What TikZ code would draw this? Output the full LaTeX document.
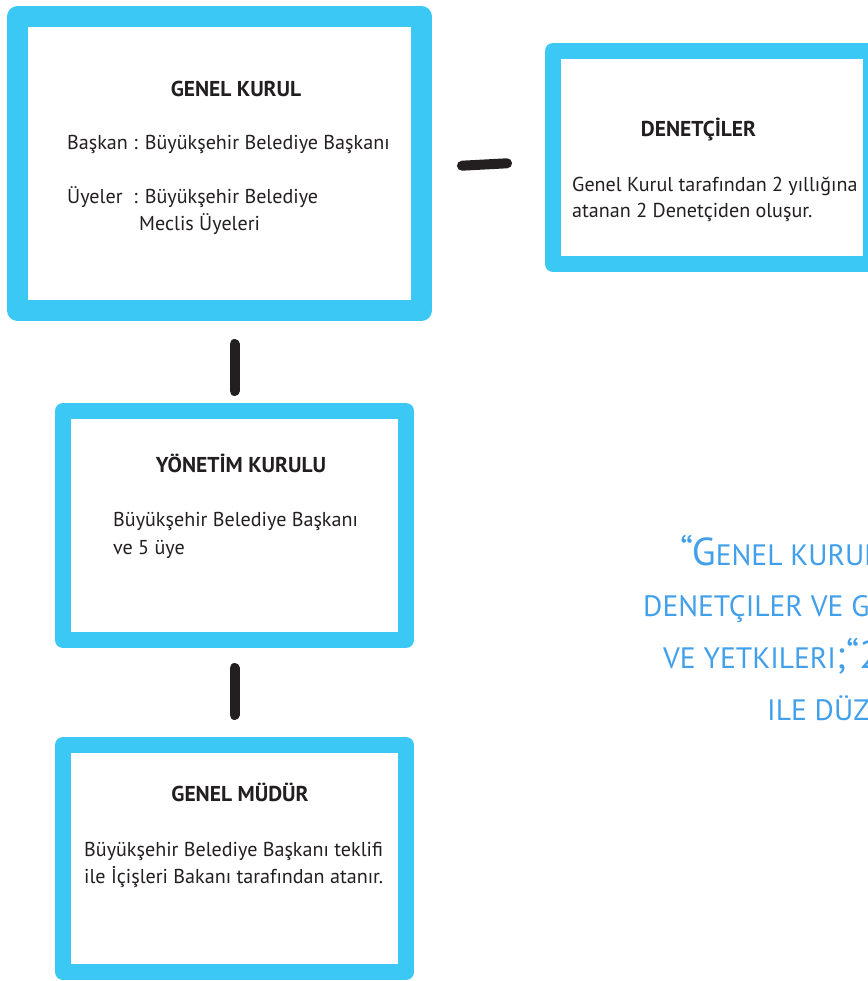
\documentclass[tikz,border=0pt]{standalone}
\usepackage{fontspec}
\setmainfont{PT Sans}
\definecolor{boxblue}{HTML}{3CC8F4}
\definecolor{ink}{HTML}{231F20}
\definecolor{noteblue}{HTML}{42A0EB}
\tikzset{
  frame/.style={draw=boxblue, fill=white, line join=round, inner sep=0pt, outer sep=0pt, rectangle},
  link/.style={draw=ink, line width=10pt, line cap=round},
  title/.style={anchor=base, inner sep=0pt, text=ink, font=\fontsize{21.5}{24}\selectfont\bfseries},
  body/.style={anchor=base west, inner sep=0pt, text=ink, font=\fontsize{20.1}{24}\selectfont},
  note/.style={anchor=base west, inner sep=0pt, text=noteblue},
}
\newcommand{\bigsc}{\fontsize{39}{39}\selectfont}
\newcommand{\smsc}{\fontsize{29.5}{29.5}\selectfont}
\begin{document}
\begin{tikzpicture}[x=1pt,y=-1pt]
\useasboundingbox (0,0) rectangle (867,981);
% boxes
\node[frame, line width=21pt, minimum width=404pt, minimum height=294pt] (gk) at (219.5,163.5) {};
\node[frame, line width=16pt, minimum width=318pt, minimum height=213pt] (den) at (712,157.5) {};
\node[frame, line width=16pt, minimum width=343pt, minimum height=229pt] (yk) at (234.5,525.5) {};
\node[frame, line width=16pt, minimum width=343pt, minimum height=227pt] (gm) at (234.5,858.5) {};
% connectors
\draw[link, shorten <=33.5pt, shorten >=20pt] (gk.south -| yk.north) -- (yk.north);
\draw[link, shorten <=28pt, shorten >=30pt] (yk.south) -- (gm.north);
\draw[link, shorten <=40.5pt, shorten >=46pt] ([yshift=-4.36pt]gk.east) -- ([yshift=-3.35pt]den.west);
% texts box 1
\node[title] (gkt) at (236,96.5) {GENEL KURUL};
\node[body] (gk1) at (67,150) {Başkan : Büyükşehir Belediye Başkanı};
\node[body] (gk2) at (67,204) {Üyeler~~: Büyükşehir Belediye};
\node[body] (gk3) at (139,231) {Meclis Üyeleri};
% box 2
\node[title] (dent) at (698.5,136.7) {DENETÇİLER};
\node[body] (den1) at (572,191.7) {Genel Kurul tarafından 2 yıllığına};
\node[body] (den2) at (572,218) {atanan 2 Denetçiden oluşur.};
% box 3
\node[title] (ykt) at (241,472.7) {YÖNETİM KURULU};
\node[body] (yk1) at (113,526.7) {Büyükşehir Belediye Başkanı};
\node[body] (yk2) at (113,554) {ve 5 üye};
% box 4
\node[title] (gmt) at (240,801.7) {GENEL MÜDÜR};
\node[body] (gm1) at (84,856.7) {Büyükşehir Belediye Başkanı teklifi};
\node[body] (gm2) at (84,883.3) {ile İçişleri Bakanı tarafından atanır.};
% note
\node[note] (n1) at (680,565.7) {{\bigsc “G}{\smsc ENEL KURUL}};
\node[note] (n2) at (643,616.7) {{\smsc DENETÇILER VE GE}};
\node[note] (n3) at (663,668.3) {{\smsc VE YETKILERI}{\bigsc ;“2}};
\node[note] (n4) at (767,720) {{\smsc ILE DÜZ}};
\end{tikzpicture}
\end{document}
